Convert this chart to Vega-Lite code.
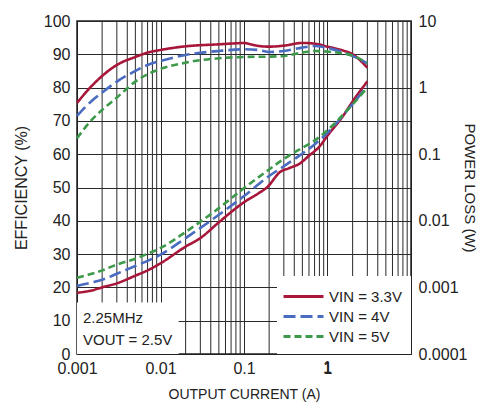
{
  "$schema": "https://vega.github.io/schema/vega-lite/v6.json",
  "width": 334,
  "height": 333,
  "autosize": {"type": "none"},
  "padding": {"left": 77, "top": 21, "right": 73, "bottom": 51},
  "background": "white",
  "config": {
    "font": "Liberation Sans",
    "view": {"stroke": "#222", "strokeWidth": 1.5},
    "axis": {
      "labelFont": "Liberation Sans",
      "labelFontSize": 16,
      "labelColor": "#222",
      "titleFont": "Liberation Sans",
      "titleFontSize": 15,
      "titleFontWeight": "normal",
      "titleColor": "#222",
      "domainColor": "#222",
      "tickColor": "#222",
      "gridColor": "#2a2a2a",
      "gridOpacity": 1,
      "gridWidth": 1,
      "labelOverlap": false,
      "labelSeparation": -1000,
      "labelFlush": false
    },
    "legend": {
      "labelFont": "Liberation Sans",
      "labelFontSize": 15,
      "labelColor": "#222"
    }
  },
  "datasets": {
    "minor": [
      {"g": 0.002}, {"g": 0.003}, {"g": 0.004}, {"g": 0.005}, {"g": 0.006}, {"g": 0.007}, {"g": 0.008}, {"g": 0.009},
      {"g": 0.02}, {"g": 0.03}, {"g": 0.04}, {"g": 0.05}, {"g": 0.06}, {"g": 0.07}, {"g": 0.08}, {"g": 0.09},
      {"g": 0.2}, {"g": 0.3}, {"g": 0.4}, {"g": 0.5}, {"g": 0.6}, {"g": 0.7}, {"g": 0.8}, {"g": 0.9},
      {"g": 2}, {"g": 3}, {"g": 4}, {"g": 5}, {"g": 6}, {"g": 7}, {"g": 8}, {"g": 9}
    ],
    "eff": [
      {"I": 0.001, "v": 75.4, "s": "VIN = 3.3V"},
      {"I": 0.0015, "v": 80.5, "s": "VIN = 3.3V"},
      {"I": 0.002, "v": 83.5, "s": "VIN = 3.3V"},
      {"I": 0.003, "v": 86.8, "s": "VIN = 3.3V"},
      {"I": 0.005, "v": 89.2, "s": "VIN = 3.3V"},
      {"I": 0.007, "v": 90.5, "s": "VIN = 3.3V"},
      {"I": 0.01, "v": 91.3, "s": "VIN = 3.3V"},
      {"I": 0.02, "v": 92.4, "s": "VIN = 3.3V"},
      {"I": 0.05, "v": 93.0, "s": "VIN = 3.3V"},
      {"I": 0.08, "v": 93.3, "s": "VIN = 3.3V"},
      {"I": 0.1, "v": 93.4, "s": "VIN = 3.3V"},
      {"I": 0.12, "v": 93.0, "s": "VIN = 3.3V"},
      {"I": 0.15, "v": 92.5, "s": "VIN = 3.3V"},
      {"I": 0.2, "v": 92.3, "s": "VIN = 3.3V"},
      {"I": 0.3, "v": 92.6, "s": "VIN = 3.3V"},
      {"I": 0.5, "v": 93.4, "s": "VIN = 3.3V"},
      {"I": 0.7, "v": 93.2, "s": "VIN = 3.3V"},
      {"I": 1, "v": 92.3, "s": "VIN = 3.3V"},
      {"I": 1.5, "v": 91.2, "s": "VIN = 3.3V"},
      {"I": 2, "v": 90.0, "s": "VIN = 3.3V"},
      {"I": 3, "v": 86.0, "s": "VIN = 3.3V"},
      {"I": 0.001, "v": 71.5, "s": "VIN = 4V"},
      {"I": 0.0015, "v": 76.0, "s": "VIN = 4V"},
      {"I": 0.002, "v": 78.5, "s": "VIN = 4V"},
      {"I": 0.003, "v": 81.8, "s": "VIN = 4V"},
      {"I": 0.005, "v": 85.0, "s": "VIN = 4V"},
      {"I": 0.007, "v": 86.8, "s": "VIN = 4V"},
      {"I": 0.01, "v": 88.0, "s": "VIN = 4V"},
      {"I": 0.02, "v": 89.8, "s": "VIN = 4V"},
      {"I": 0.05, "v": 91.0, "s": "VIN = 4V"},
      {"I": 0.1, "v": 91.5, "s": "VIN = 4V"},
      {"I": 0.15, "v": 91.3, "s": "VIN = 4V"},
      {"I": 0.2, "v": 90.7, "s": "VIN = 4V"},
      {"I": 0.3, "v": 91.0, "s": "VIN = 4V"},
      {"I": 0.5, "v": 92.0, "s": "VIN = 4V"},
      {"I": 0.7, "v": 92.5, "s": "VIN = 4V"},
      {"I": 1, "v": 91.9, "s": "VIN = 4V"},
      {"I": 2, "v": 89.5, "s": "VIN = 4V"},
      {"I": 3, "v": 87.3, "s": "VIN = 4V"},
      {"I": 0.001, "v": 64.8, "s": "VIN = 5V"},
      {"I": 0.0015, "v": 70.3, "s": "VIN = 5V"},
      {"I": 0.002, "v": 73.3, "s": "VIN = 5V"},
      {"I": 0.003, "v": 77.0, "s": "VIN = 5V"},
      {"I": 0.005, "v": 81.8, "s": "VIN = 5V"},
      {"I": 0.007, "v": 84.0, "s": "VIN = 5V"},
      {"I": 0.01, "v": 85.6, "s": "VIN = 5V"},
      {"I": 0.02, "v": 87.5, "s": "VIN = 5V"},
      {"I": 0.05, "v": 88.8, "s": "VIN = 5V"},
      {"I": 0.1, "v": 89.2, "s": "VIN = 5V"},
      {"I": 0.2, "v": 89.3, "s": "VIN = 5V"},
      {"I": 0.3, "v": 89.5, "s": "VIN = 5V"},
      {"I": 0.5, "v": 90.5, "s": "VIN = 5V"},
      {"I": 0.7, "v": 91.0, "s": "VIN = 5V"},
      {"I": 1, "v": 90.8, "s": "VIN = 5V"},
      {"I": 2, "v": 89.6, "s": "VIN = 5V"},
      {"I": 3, "v": 87.4, "s": "VIN = 5V"}
    ],
    "loss": [
      {"I": 0.001, "v": 0.00083, "s": "VIN = 3.3V"},
      {"I": 0.0015, "v": 0.0009, "s": "VIN = 3.3V"},
      {"I": 0.002, "v": 0.001, "s": "VIN = 3.3V"},
      {"I": 0.003, "v": 0.00115, "s": "VIN = 3.3V"},
      {"I": 0.005, "v": 0.0015, "s": "VIN = 3.3V"},
      {"I": 0.007, "v": 0.0018, "s": "VIN = 3.3V"},
      {"I": 0.01, "v": 0.0023, "s": "VIN = 3.3V"},
      {"I": 0.02, "v": 0.0041, "s": "VIN = 3.3V"},
      {"I": 0.03, "v": 0.0055, "s": "VIN = 3.3V"},
      {"I": 0.05, "v": 0.0095, "s": "VIN = 3.3V"},
      {"I": 0.1, "v": 0.019, "s": "VIN = 3.3V"},
      {"I": 0.15, "v": 0.026, "s": "VIN = 3.3V"},
      {"I": 0.19, "v": 0.032, "s": "VIN = 3.3V"},
      {"I": 0.27, "v": 0.054, "s": "VIN = 3.3V"},
      {"I": 0.35, "v": 0.062, "s": "VIN = 3.3V"},
      {"I": 0.47, "v": 0.073, "s": "VIN = 3.3V"},
      {"I": 0.6, "v": 0.095, "s": "VIN = 3.3V"},
      {"I": 0.8, "v": 0.13, "s": "VIN = 3.3V"},
      {"I": 1, "v": 0.19, "s": "VIN = 3.3V"},
      {"I": 1.5, "v": 0.36, "s": "VIN = 3.3V"},
      {"I": 2, "v": 0.62, "s": "VIN = 3.3V"},
      {"I": 3, "v": 1.24, "s": "VIN = 3.3V"},
      {"I": 0.001, "v": 0.00105, "s": "VIN = 4V"},
      {"I": 0.0015, "v": 0.00118, "s": "VIN = 4V"},
      {"I": 0.002, "v": 0.0013, "s": "VIN = 4V"},
      {"I": 0.003, "v": 0.0016, "s": "VIN = 4V"},
      {"I": 0.005, "v": 0.0021, "s": "VIN = 4V"},
      {"I": 0.007, "v": 0.0025, "s": "VIN = 4V"},
      {"I": 0.01, "v": 0.0031, "s": "VIN = 4V"},
      {"I": 0.02, "v": 0.0055, "s": "VIN = 4V"},
      {"I": 0.05, "v": 0.0123, "s": "VIN = 4V"},
      {"I": 0.1, "v": 0.0235, "s": "VIN = 4V"},
      {"I": 0.2, "v": 0.047, "s": "VIN = 4V"},
      {"I": 0.3, "v": 0.066, "s": "VIN = 4V"},
      {"I": 0.46, "v": 0.095, "s": "VIN = 4V"},
      {"I": 0.7, "v": 0.14, "s": "VIN = 4V"},
      {"I": 1, "v": 0.21, "s": "VIN = 4V"},
      {"I": 2, "v": 0.57, "s": "VIN = 4V"},
      {"I": 3, "v": 1.05, "s": "VIN = 4V"},
      {"I": 0.001, "v": 0.0014, "s": "VIN = 5V"},
      {"I": 0.0015, "v": 0.0016, "s": "VIN = 5V"},
      {"I": 0.002, "v": 0.0018, "s": "VIN = 5V"},
      {"I": 0.003, "v": 0.0022, "s": "VIN = 5V"},
      {"I": 0.005, "v": 0.0027, "s": "VIN = 5V"},
      {"I": 0.007, "v": 0.0032, "s": "VIN = 5V"},
      {"I": 0.01, "v": 0.0039, "s": "VIN = 5V"},
      {"I": 0.02, "v": 0.0068, "s": "VIN = 5V"},
      {"I": 0.05, "v": 0.0155, "s": "VIN = 5V"},
      {"I": 0.1, "v": 0.031, "s": "VIN = 5V"},
      {"I": 0.2, "v": 0.059, "s": "VIN = 5V"},
      {"I": 0.3, "v": 0.085, "s": "VIN = 5V"},
      {"I": 0.5, "v": 0.125, "s": "VIN = 5V"},
      {"I": 0.7, "v": 0.16, "s": "VIN = 5V"},
      {"I": 1, "v": 0.23, "s": "VIN = 5V"},
      {"I": 2, "v": 0.56, "s": "VIN = 5V"},
      {"I": 3, "v": 1.0, "s": "VIN = 5V"}
    ]
  },
  "layer": [
    {
      "layer": [
        {
          "data": {"name": "minor"},
          "mark": {"type": "rule", "color": "#2a2a2a", "strokeWidth": 1},
          "encoding": {
            "x": {"field": "g", "type": "quantitative"}
          }
        },
        {
          "data": {"name": "eff"},
          "mark": {"type": "line", "strokeWidth": 2.6, "interpolate": "monotone"},
          "encoding": {
            "x": {
              "field": "I", "type": "quantitative",
              "scale": {"type": "log", "domain": [0.001, 10]},
              "axis": {
                "title": "OUTPUT CURRENT (A)",
                "titleFontSize": 14,
                "values": [0.001, 0.01, 0.1, 1, 10],
                "tickCount": 5,
                "labelExpr": "datum.value == 10 ? '' : format(datum.value, '~g')",
                "labelOverlap": false,
                "labelSeparation": -1000,
                "grid": true,
                "ticks": false,
                "labelPadding": 6,
                "titlePadding": 11
              }
            },
            "y": {
              "field": "v", "type": "quantitative",
              "scale": {"domain": [0, 100]},
              "axis": {
                "title": "EFFICIENCY (%)",
                "titleFontSize": 16,
                "values": [0, 10, 20, 30, 40, 50, 60, 70, 80, 90, 100],
                "tickCount": 11,
                "labelOverlap": false,
                "labelSeparation": -1000,
                "grid": true,
                "ticks": false,
                "labelPadding": 7,
                "titlePadding": 14
              }
            },
            "color": {
              "field": "s", "type": "nominal",
              "scale": {"domain": ["VIN = 3.3V", "VIN = 4V", "VIN = 5V"], "range": ["#a8173a", "#4a6cc0", "#3d9a4b"]},
              "legend": {"title": null, "orient": "bottom-right", "offset": 0, "fillColor": "white", "padding": 9, "symbolSize": 400, "symbolType": "M-2,0H2", "symbolStrokeWidth": 3, "symbolOffset": 6, "labelOffset": 14, "rowPadding": 0}
            },
            "strokeDash": {
              "field": "s", "type": "nominal",
              "scale": {"domain": ["VIN = 3.3V", "VIN = 4V", "VIN = 5V"], "range": [[1, 0], [12, 5], [7, 4]]},
              "legend": {"title": null, "orient": "bottom-right", "offset": 0, "fillColor": "white", "padding": 9, "symbolSize": 400, "symbolType": "M-2,0H2", "symbolStrokeWidth": 3, "symbolOffset": 6, "labelOffset": 14, "rowPadding": 0}
            }
          }
        },
        {
          "data": {"values": [{}]},
          "mark": {"type": "rect", "fill": "white"},
          "encoding": {
            "x": {"datum": 0.001, "type": "quantitative"},
            "x2": {"datum": 0.0165},
            "y": {"datum": 0, "type": "quantitative"},
            "y2": {"datum": 15.5}
          }
        },
        {
          "data": {"values": [{}]},
          "mark": {"type": "text", "text": ["2.25MHz", "VOUT = 2.5V"], "align": "left", "baseline": "middle", "fontSize": 15, "lineHeight": 22, "font": "Liberation Sans", "color": "#222"},
          "encoding": {
            "x": {"datum": 0.00118, "type": "quantitative"},
            "y": {"datum": 10.9, "type": "quantitative"}
          }
        },
        {
          "data": {"values": [{}]},
          "mark": {"type": "text", "text": "1", "align": "center", "baseline": "top", "dy": 6, "fontSize": 16, "font": "Liberation Sans", "color": "#222"},
          "encoding": {
            "x": {"datum": 1, "type": "quantitative"},
            "y": {"datum": 0, "type": "quantitative"}
          }
        }
      ]
    },
    {
      "data": {"name": "loss"},
      "mark": {"type": "line", "strokeWidth": 2.6, "interpolate": "monotone"},
      "encoding": {
        "x": {"field": "I", "type": "quantitative"},
        "y": {
          "field": "v", "type": "quantitative",
          "scale": {"type": "log", "domain": [0.0001, 10]},
          "axis": {
            "orient": "right",
            "title": "POWER LOSS (W)",
            "values": [0.0001, 0.001, 0.01, 0.1, 1, 10],
            "tickCount": 6,
            "format": "~g",
            "labelOverlap": false,
            "grid": false,
            "ticks": false,
            "labelPadding": 7,
            "titlePadding": -5
          }
        },
        "color": {"field": "s", "type": "nominal"},
        "strokeDash": {"field": "s", "type": "nominal"}
      }
    }
  ],
  "resolve": {"scale": {"y": "independent"}}
}
